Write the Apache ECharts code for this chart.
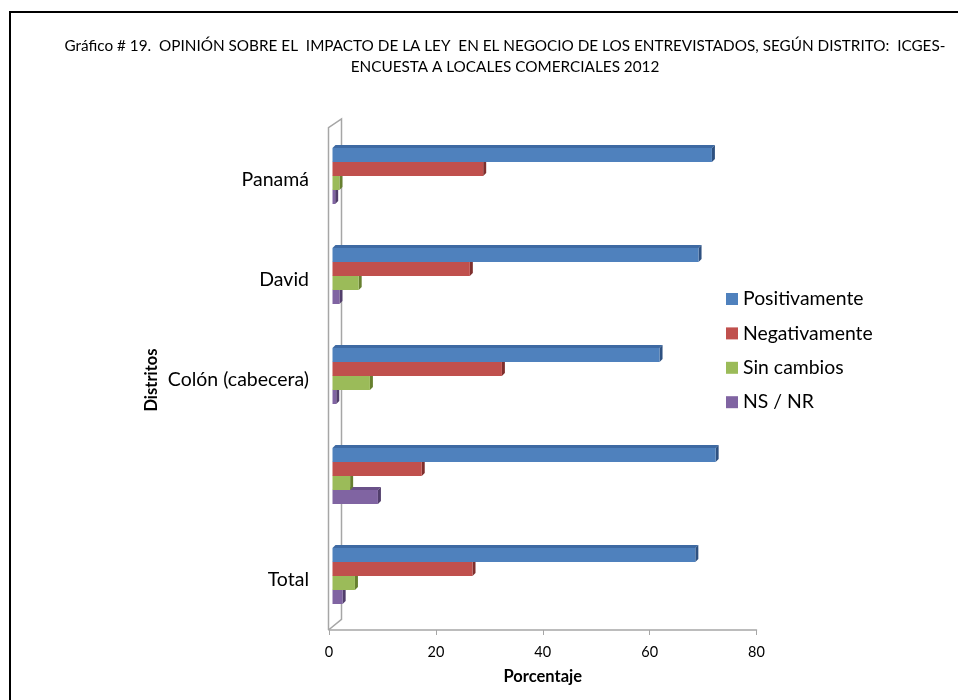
<!DOCTYPE html>
<html>
<head>
<meta charset="utf-8">
<script src="https://cdn.jsdelivr.net/npm/echarts@6/dist/echarts.min.js"></script>
<style>html,body{margin:0;padding:0;background:#fff;}#c{width:958px;height:700px;}</style>
</head>
<body>
<div id="c"></div>
<script>
var categories = ['Panamá', 'David', 'Colón (cabecera)', '', 'Total'];
var seriesNames = ['Positivamente', 'Negativamente', 'Sin cambios', 'NS / NR'];
var positivamente = [71.0, 68.5, 61.2, 71.7, 67.9];
var negativamente = [28.2, 25.7, 31.7, 16.7, 26.2];
var sinCambios = [1.3, 4.9, 7.0, 3.3, 4.2];
var nsnr = [0.5, 1.3, 0.7, 8.5, 1.9];
var xTicks = [0, 20, 40, 60, 80];

var values = [positivamente, negativamente, sinCambios, nsnr];
var colors = ['#4F81BD', '#C0504D', '#9BBB59', '#8064A2'];
var topColors = ['#3E6AA3', '#A23F3C', '#84A248', '#6A5189'];
var sideColors = ['#2E5181', '#7F2F2D', '#67802F', '#523E6C'];

var G = {left: 329, top: 130, width: 427.5, height: 500};
var DX = 3.5, DY = -4, D = 3;
var FONT = 'Lato, "Open Sans", sans-serif';

function renderItem(params, api) {
  var val = api.value(0), cat = api.value(1);
  var p0 = api.coord([0, cat]);
  var p1 = api.coord([val, cat]);
  var band = api.size([0, 1])[1];
  var h = band * 0.14;
  var si = params.seriesIndex;
  var y0 = p0[1] - 2 * h + si * h + DY;
  var y1 = y0 + h;
  var x0 = p0[0] + DX, x1 = p1[0] + DX;
  return {
    type: 'group',
    children: [
      {type: 'polygon', shape: {points: [[x0, y0], [x0 + D, y0 - D], [x1 + D, y0 - D], [x1, y0]]},
        style: {fill: topColors[si]}},
      {type: 'polygon', shape: {points: [[x1, y0], [x1 + D, y0 - D], [x1 + D, y1 - D], [x1, y1]]},
        style: {fill: sideColors[si]}},
      {type: 'rect', shape: {x: x0, y: y0, width: Math.max(x1 - x0, 0), height: h},
        style: {fill: colors[si]}}
    ]
  };
}

var series = seriesNames.map(function (n, i) {
  return {
    type: 'custom',
    name: n,
    renderItem: renderItem,
    itemStyle: {color: colors[i]},
    encode: {x: 0, y: 1},
    z: 10 - i,
    data: values[i].map(function (v, k) { return [v, k]; })
  };
});

var chart = echarts.init(document.getElementById('c'));
var wallColor = '#A6A6A6';
chart.setOption({
  animation: false,
  backgroundColor: '#fff',
  textStyle: {fontFamily: FONT},
  title: {
    text: 'Gráfico # 19.  OPINIÓN SOBRE EL  IMPACTO DE LA LEY  EN EL NEGOCIO DE LOS ENTREVISTADOS, SEGÚN DISTRITO:  ICGES-\nENCUESTA A LOCALES COMERCIALES 2012',
    left: 500, top: 31, textAlign: 'center',
    textStyle: {fontFamily: FONT, fontSize: 15.3, fontWeight: 'normal', color: '#000', lineHeight: 21}
  },
  legend: {
    orient: 'vertical', left: 721, top: 283,
    itemWidth: 12, itemHeight: 12, itemGap: 12.4,
    icon: 'rect',
    data: seriesNames,
    textStyle: {fontFamily: FONT, fontSize: 19.4, color: '#000', lineHeight: 22}
  },
  grid: {left: G.left, top: G.top, width: G.width, height: G.height},
  xAxis: {
    type: 'value', min: 0, max: 80, interval: 20,
    name: 'Porcentaje', nameLocation: 'middle', nameGap: 38,
    nameTextStyle: {fontFamily: FONT, fontSize: 16.5, fontWeight: 'bold', color: '#000'},
    splitLine: {show: false},
    axisLine: {show: true, lineStyle: {color: wallColor, width: 1.5}},
    axisTick: {show: true, length: 5, lineStyle: {color: wallColor}},
    axisLabel: {fontFamily: FONT, fontSize: 14.5, color: '#000', margin: 15,
      formatter: function (v) { return xTicks.indexOf(v) >= 0 ? String(v) : ''; }}
  },
  yAxis: {
    type: 'category', data: categories, inverse: true,
    name: 'Distritos', nameLocation: 'middle', nameGap: 169,
    nameTextStyle: {fontFamily: FONT, fontSize: 16.5, fontWeight: 'bold', color: '#000'},
    axisLine: {show: false}, axisTick: {show: false}, splitLine: {show: false},
    axisLabel: {fontFamily: FONT, fontSize: 19.5, color: '#000', margin: 20}
  },
  graphic: [
    {type: 'rect', shape: {x: 10, y: 12, width: 1000, height: 800},
      style: {fill: null, stroke: '#000', lineWidth: 2}, z: 100},
    {type: 'polyline', shape: {points: [[G.left - 0.5, G.top + G.height], [G.left - 0.5, 127.7], [G.left + 12.5, 119], [G.left + 12.5, 619.3], [G.left - 0.5, G.top + G.height]]},
      style: {fill: null, stroke: wallColor, lineWidth: 1.5}, z: 1}
  ],
  series: series
});
</script>
</body>
</html>
